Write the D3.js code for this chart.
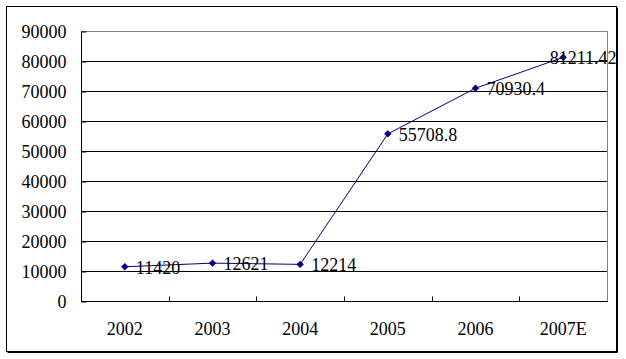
<!DOCTYPE html>
<html>
<head>
<meta charset="utf-8">
<script src="https://cdn.jsdelivr.net/npm/d3@7/dist/d3.min.js"></script>
<style>
  html, body { margin: 0; padding: 0; background: #fff; }
  svg { display: block; }
  svg text { font-family: "Times New Roman", "Liberation Serif", serif !important; }
</style>
</head>
<body>
<svg id="chart" width="626" height="359"></svg>
<script>
const categories = ["2002", "2003", "2004", "2005", "2006", "2007E"];
const values = [11420, 12621, 12214, 55708.8, 70930.4, 81211.42];
const valueLabels = ["11420", "12621", "12214", "55708.8", "70930.4", "81211.42"];
const yTicks = [0, 10000, 20000, 30000, 40000, 50000, 60000, 70000, 80000, 90000];

const FONT = "'Times New Roman', 'Liberation Serif', serif";
const svg = d3.select("#chart");
const plot = { left: 81, right: 607, top: 31, bottom: 301 };
const frame = { left: 6.5, top: 6.5, right: 616.5, bottom: 351.5 };

// outer frame with a 1px shadow on the right and bottom
svg.append("rect").attr("x", frame.left).attr("y", frame.top)
  .attr("width", frame.right - frame.left).attr("height", frame.bottom - frame.top)
  .attr("fill", "#fff").attr("stroke", "#000").attr("stroke-width", 1);
svg.append("path")
  .attr("d", `M${frame.right + 1},${frame.top + 1}V${frame.bottom + 1}H${frame.left + 1}`)
  .attr("fill", "none").attr("stroke", "#000").attr("stroke-width", 1);

const x = d3.scaleBand().domain(categories).range([plot.left, plot.right]).padding(0);
const y = d3.scaleLinear().domain([0, 90000]).range([plot.bottom, plot.top]);

// gridlines
svg.append("g").selectAll("line").data(yTicks.filter(t => t > 0 && t < 90000)).join("line")
  .attr("x1", plot.left).attr("x2", plot.right)
  .attr("y1", d => Math.round(y(d)) + 0.5).attr("y2", d => Math.round(y(d)) + 0.5)
  .attr("stroke", "#000").attr("stroke-width", 1);

// plot border (top/right grey)
svg.append("path")
  .attr("d", `M${plot.left},${plot.top + 0.5}H${plot.right + 0.5}V${plot.bottom}`)
  .attr("fill", "none").attr("stroke", "#808080").attr("stroke-width", 1);

// y axis
const yAxis = d3.axisLeft(y).tickValues(yTicks).tickSize(-5).tickPadding(15)
  .tickFormat(d3.format("d"));
const gy = svg.append("g").attr("transform", `translate(${plot.left + 0.5},0.5)`).call(yAxis)
  .attr("font-family", FONT);
gy.select(".domain").attr("stroke", "#000").attr("d", `M0,${plot.top}V${plot.bottom}`);
gy.selectAll(".tick line").attr("stroke", "#000");
gy.selectAll(".tick text").attr("font-size", 18).attr("fill", "#000")
  .attr("font-family", FONT).attr("dy", "0.36em");

// x axis
const boundaries = categories.slice(1).map(c => x(c));
const xg = svg.append("g").attr("transform", `translate(0,${plot.bottom + 0.5})`);
xg.append("line").attr("x1", plot.left).attr("x2", plot.right + 1)
  .attr("stroke", "#000");
xg.selectAll("line.tk").data(boundaries).join("line").attr("class", "tk")
  .attr("x1", d => Math.round(d) + 0.5).attr("x2", d => Math.round(d) + 0.5)
  .attr("y1", 0).attr("y2", -5).attr("stroke", "#000");
xg.selectAll("text").data(categories).join("text")
  .attr("x", d => x(d) + x.bandwidth() / 2)
  .attr("y", 33)
  .attr("text-anchor", "middle")
  .attr("font-family", FONT)
  .attr("font-size", 18).attr("fill", "#000")
  .text(d => d);

// line
const cx = (d, i) => x(categories[i]) + x.bandwidth() / 2;
const line = d3.line().x((d, i) => cx(d, i)).y(d => y(d));
svg.append("path").datum(values).attr("d", line)
  .attr("fill", "none").attr("stroke", "#000080").attr("stroke-width", 1);

// markers (diamonds)
svg.append("g").selectAll("path").data(values).join("path")
  .attr("transform", (d, i) => `translate(${cx(d, i)},${y(d)})`)
  .attr("d", d3.symbol().type(d3.symbolDiamond2).size(30))
  .attr("fill", "#000080").attr("stroke", "#000080").attr("stroke-width", 0.5);

// data labels (kept inside the frame: the last one is pulled left)
const labels = svg.append("g").selectAll("text").data(values).join("text")
  .attr("x", (d, i) => cx(d, i) + 11)
  .attr("y", d => y(d) + 7)
  .attr("font-family", FONT)
  .attr("font-size", 18).attr("fill", "#000")
  .text((d, i) => valueLabels[i]);
labels.each(function () {
  const bb = this.getBBox();
  if (bb.x + bb.width > frame.right) {
    d3.select(this).attr("text-anchor", "end").attr("x", frame.right);
  }
});
</script>
</body>
</html>
